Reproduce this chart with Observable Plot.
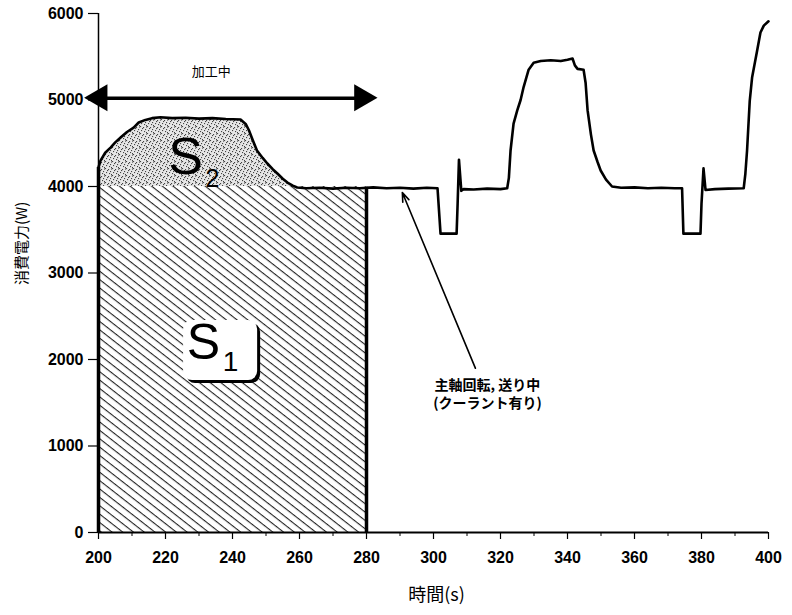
<!DOCTYPE html>
<html>
<head>
<meta charset="utf-8">
<script src="https://cdn.jsdelivr.net/npm/d3@7"></script>
<script src="https://cdn.jsdelivr.net/npm/@observablehq/plot@0.6"></script>
<style>
  html, body { margin: 0; padding: 0; background: #fff; }
</style>
</head>
<body>
<div id="chart"></div>
<script>
// ---- data ----
const time = [
  200, 200.6, 202, 203.6, 205, 206.6, 208.5, 210.5, 212, 214, 216, 218.5, 222, 226, 230, 234, 238, 242.4,
  244, 244.9, 246, 247.3, 249, 250.4, 252, 253.4, 255, 256.4, 258, 259.3, 262, 266, 270, 274, 278, 282,
  286, 290, 294, 298, 301.2, 302.1, 306.9, 307.2, 307.6, 308.3, 309, 312, 316, 320, 322, 322.5, 323, 323.9,
  325, 326, 326.9, 328.4, 329.9, 332, 335, 338, 340, 341.5, 342.2, 343, 344.8, 345.4, 346, 347, 347.8,
  349, 349.9, 351.5, 353.3, 356, 360, 364, 368, 372, 374.2, 374.6, 379.7, 380, 380.6, 381.2, 384, 388,
  392.6, 393.1, 393.6, 394.4, 395.1, 396.6, 397.6, 398.6, 400
];
const power = [
  4220, 4300, 4390, 4450, 4510, 4566, 4630, 4680, 4740, 4770, 4790, 4800, 4790, 4795, 4785, 4790, 4780, 4775,
  4720, 4650, 4540, 4416, 4330, 4266, 4200, 4150, 4090, 4046, 4010, 3988, 3980, 3985, 3975, 3985, 3980, 3990,
  3980, 3985, 3975, 3985, 3980, 3455, 3455, 3800, 4310, 3950, 3970, 3965, 3975, 3970, 3980, 4100, 4416, 4728,
  4880, 5000, 5150, 5350, 5430, 5450, 5460, 5450, 5465, 5480, 5400, 5360, 5350, 5200, 4880, 4600, 4416,
  4280, 4185, 4080, 4000, 3985, 3990, 3980, 3985, 3980, 3980, 3455, 3455, 3800, 4210, 3960, 3970, 3975,
  3980, 4150, 4416, 4990, 5260, 5570, 5780, 5860, 5910
];
const xTicks = [200, 220, 240, 260, 280, 300, 320, 340, 360, 380, 400];
const xMinorTicks = [210, 230, 250, 270, 290, 310, 330, 350, 370, 390];
const yTicks = [0, 1000, 2000, 3000, 4000, 5000, 6000];
const s1Range = [200, 280];       // machining interval (s)
const baseLevel = 4000;           // spindle + feed base power (W)
const s2End = 259.3;
const xLabel = "時間(s)";
const yLabel = "消費電力(W)";
const spanLabel = "加工中";
const spanArrow = [200.5, 278.8, 5020];
const noteLines = ["主軸回転, 送り中", "(クーラント有り)"];
const noteArrow = [312.5, 1900, 290.7, 3930];
const noteText = [316.1, 1700, 1490];
const s2Label = [226, 4335, 234, 4092];
const s1Label = [231.3, 2185, 239.4, 1965];
const s1Box = [225.4, 247.5, 1757, 2451];

// ---- tables built from the arrays ----
const curve = time.map((t, i) => ({t, p: power[i]}));
const s2Area = curve.filter(d => d.t <= s2End);
const s1Rect = [{t1: s1Range[0], t2: s1Range[1], p1: 0, p2: baseLevel}];
const edges = [
  {t: s1Range[0], p1: 0, p2: power[0]},
  {t: s1Range[1], p1: 0, p2: curve.find(d => d.t >= s1Range[1]).p}
];
const boxRect = [{x1: s1Box[0], x2: s1Box[1], y1: s1Box[2], y2: s1Box[3]}];
const span = [{x1: spanArrow[0], x2: spanArrow[1], y: spanArrow[2]}];
const heads = [
  {x: spanArrow[0], y: spanArrow[2], rot: -90, dx: 14},
  {x: spanArrow[1], y: spanArrow[2], rot: 90, dx: -14}
];
const note = [{x1: noteArrow[0], y1: noteArrow[1], x2: noteArrow[2], y2: noteArrow[3]}];

const jp = "'Noto Sans CJK JP', 'Noto Sans', sans-serif";
const plain = d => String(d);

const svg = Plot.plot({
  width: 792,
  height: 615,
  marginLeft: 98,
  marginRight: 24,
  marginTop: 13,
  marginBottom: 83,
  x: {domain: [200, 400]},
  y: {domain: [0, 6000]},
  style: {fontFamily: "'Liberation Sans', Arial, sans-serif", background: "#fff", color: "#000"},
  marks: [
    // S1 hatched rectangle
    Plot.rect(s1Rect, {x1: "t1", x2: "t2", y1: "p1", y2: "p2", fill: "url(#hatch)"}),
    // S2 stippled area
    Plot.areaY(s2Area, {x: "t", y1: () => baseLevel, y2: "p", fill: "url(#stipple)", curve: "linear"}),
    // axes
    Plot.axisY({ticks: yTicks, tickFormat: plain, tickSize: 10, tickPadding: 5, fontSize: 16, fontWeight: "bold", label: null, strokeWidth: 1.2}),
    Plot.axisX({ticks: xTicks, tickFormat: plain, tickSize: 7, tickPadding: 12, fontSize: 16, fontWeight: "bold", label: null, strokeWidth: 1.2}),
    Plot.axisX({ticks: xMinorTicks, tickSize: 4, tickFormat: () => "", label: null}),
    Plot.ruleX([200], {y1: 0, y2: 6000, strokeWidth: 1.5}),
    Plot.ruleY([0], {strokeWidth: 2}),
    // bold edges of S1
    Plot.ruleX(edges, {x: "t", y1: "p1", y2: "p2", strokeWidth: 3.5}),
    // power curve
    Plot.line(curve, {x: "t", y: "p", stroke: "#000", strokeWidth: 2.6, curve: "linear", strokeLinejoin: "round"}),
    // S1 label box (shadow then white)
    Plot.rect(boxRect, {x1: "x1", x2: "x2", y1: "y1", y2: "y2", rx: 9, fill: "#000", dx: 3, dy: 3}),
    Plot.rect(boxRect, {x1: "x1", x2: "x2", y1: "y1", y2: "y2", rx: 9, fill: "#fff"}),
    Plot.text(["S"], {x: s1Label[0], y: s1Label[1], fontSize: 50, fill: "#000", fontFamily: "'Liberation Sans', Arial, sans-serif"}),
    Plot.text(["1"], {x: s1Label[2], y: s1Label[3], fontSize: 28, fill: "#000", fontFamily: "'Liberation Sans', Arial, sans-serif"}),
    Plot.text(["S"], {x: s2Label[0], y: s2Label[1], fontSize: 52, fill: "#000", fontFamily: "'Liberation Sans', Arial, sans-serif"}),
    Plot.text(["2"], {x: s2Label[2], y: s2Label[3], fontSize: 25, fill: "#000", fontFamily: "'Liberation Sans', Arial, sans-serif"}),
    // machining span double arrow
    Plot.link(span, {x1: "x1", x2: "x2", y1: "y", y2: "y", strokeWidth: 3.5, stroke: "#000"}),
    Plot.dot(heads, {x: "x", y: "y", dx: "dx", symbol: "triangle", r: 10, fill: "#000", stroke: "none", rotate: "rot"}),
    Plot.text([spanLabel], {x: (spanArrow[0] + spanArrow[1]) / 2 - 6, y: 5330, fontSize: 13, fontFamily: jp, fill: "#000"}),
    // note arrow + text
    Plot.arrow(note, {x1: "x1", y1: "y1", x2: "x2", y2: "y2", strokeWidth: 1.6, headLength: 9, headAngle: 40, stroke: "#000"}),
    Plot.text([noteLines[0]], {x: noteText[0], y: noteText[1], fontSize: 14, fontFamily: jp, fontWeight: "bold", fill: "#000"}),
    Plot.text([noteLines[1]], {x: noteText[0], y: noteText[2], fontSize: 14, fontFamily: jp, fontWeight: "bold", fill: "#000"}),
    // axis titles
    Plot.text([xLabel], {frameAnchor: "bottom", dy: 68, dx: 3, fontSize: 18, fontFamily: jp, fill: "#000"}),
    Plot.text([yLabel], {frameAnchor: "left", dx: -76, dy: 12, rotate: -90, fontSize: 15, fontFamily: jp, fill: "#000"})
  ]
});

// pattern definitions used by the fills
const defs = d3.select(svg).insert("defs", ":first-child");
const hatch = defs.append("pattern")
  .attr("id", "hatch").attr("patternUnits", "userSpaceOnUse")
  .attr("width", 8).attr("height", 6.6)
  .attr("patternTransform", "rotate(38)");
hatch.append("rect").attr("width", 8).attr("height", 6.6).attr("fill", "#fff");
hatch.append("rect").attr("y", 0).attr("width", 8).attr("height", 1.1).attr("fill", "#222");

const stip = defs.append("pattern")
  .attr("id", "stipple").attr("patternUnits", "userSpaceOnUse")
  .attr("width", 7).attr("height", 7);
stip.append("rect").attr("width", 7).attr("height", 7).attr("fill", "#e6e6e6");
[[0,0],[3,1],[5,3],[1,4],[4,5],[6,6],[2,2],[6,0.5]].forEach(([x, y]) => {
  stip.append("rect").attr("x", x).attr("y", y).attr("width", 1.1).attr("height", 1.1).attr("fill", "#444");
});

document.getElementById("chart").appendChild(svg);
</script>
</body>
</html>
